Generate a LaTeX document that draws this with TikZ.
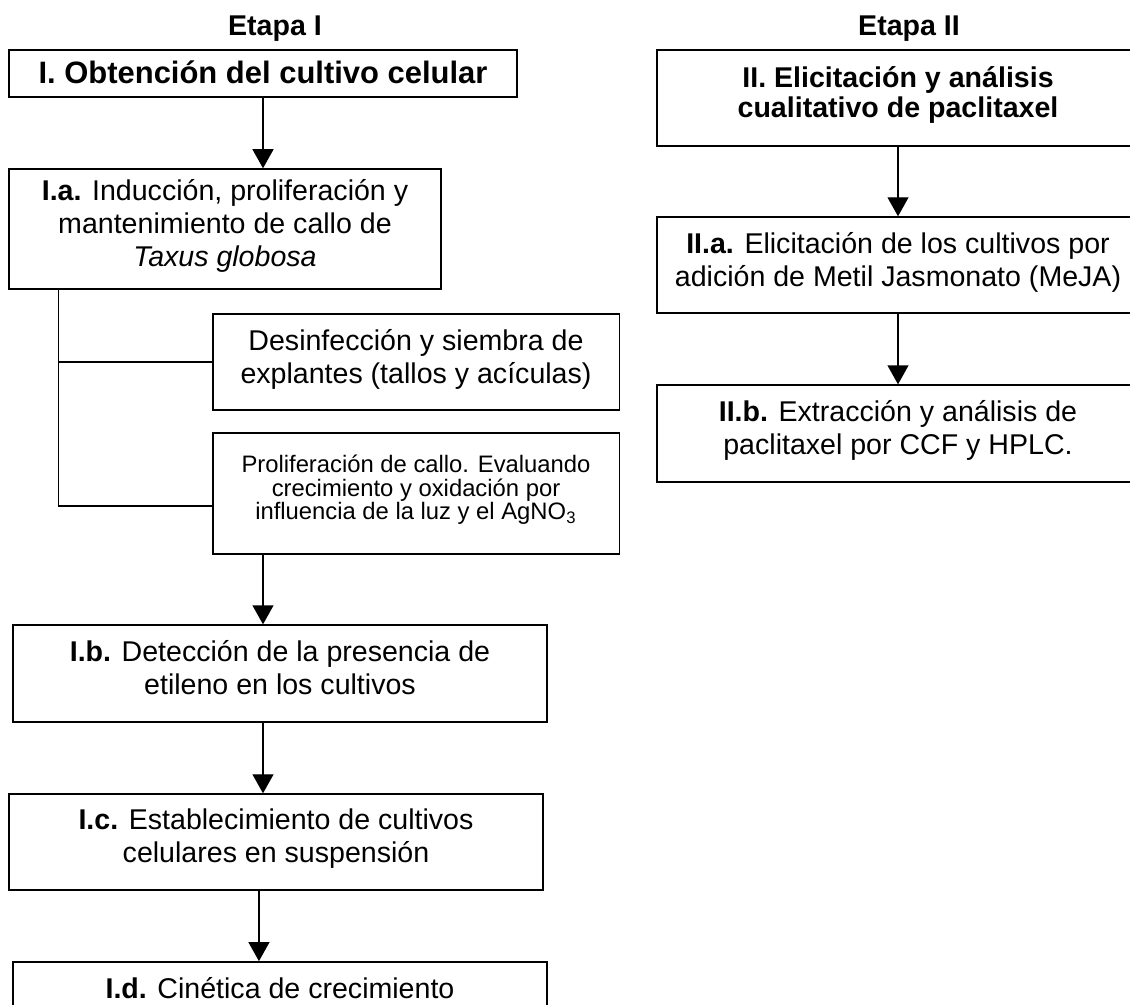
\documentclass[tikz,border=0pt]{standalone}
\usepackage{fontspec}
\setmainfont{Liberation Sans}
\usetikzlibrary{arrows.meta,positioning}
\tikzset{
  stepbox/.style={
    draw=black,
    line width=0.6pt,
    fill=white,
    align=center,
    inner sep=2pt,
    text depth=5pt,
    font=\fontsize{12}{13.9}\selectfont
  },
  notebox/.style={stepbox, font=\fontsize{10}{9.8}\selectfont},
  headbox/.style={stepbox, font=\bfseries\fontsize{12}{12.6}\selectfont},
  title/.style={inner sep=0pt, font=\bfseries\fontsize{12}{14}\selectfont},
  edge/.style={-{Triangle[width=8.8pt,length=8pt]}, line width=0.6pt},
  branch/.style={line width=0.6pt}
}

\begin{document}
\begin{tikzpicture}[x=0.42pt, y=-0.42pt]

  \useasboundingbox (0,0) rectangle (1130,1004);
  \clip (0,0) rectangle (1130,1004);

  % Etapa I
  \node[title] (etapa1) at (275,29) {Etapa I};
  \node[headbox, text depth=1pt, font=\bfseries\fontsize{13}{14}\selectfont,
        minimum width=213.5pt, minimum height=19.7pt] (I) at (263,73.5) {I. Obtención del cultivo celular};
  \node[stepbox, minimum width=181.6pt, minimum height=50.4pt] (Ia) at (225,229)
    {\textbf{I.a.} Inducción, proliferación y\\ mantenimiento de callo de\\ \textit{Taxus globosa}};
  \node[stepbox, minimum width=170.7pt, minimum height=40.3pt] (desinf) at (416,362)
    {Desinfección y siembra de\\ explantes (tallos y acículas)};
  \node[notebox, minimum width=170.7pt, minimum height=50.8pt] (prolif) at (416,493.5)
    {Proliferación de callo. Evaluando\\ crecimiento y oxidación por\\ influencia de la luz y el AgNO\textsubscript{3}};
  \node[stepbox, minimum width=224.3pt, minimum height=40.7pt] (Ib) at (280,673.5)
    {\textbf{I.b.} Detección de la presencia de\\ etileno en los cultivos};
  \node[stepbox, minimum width=224.4pt, minimum height=40.3pt] (Ic) at (276,842)
    {\textbf{I.c.} Establecimiento de cultivos\\ celulares en suspensión};
  \node[stepbox, minimum width=224.3pt, minimum height=27pt] (Id) at (280,994)
    {\textbf{I.d.} Cinética de crecimiento};

  \coordinate (trunk) at ([xshift=21.2pt]Ia.south west);
  \draw[branch] (trunk) |- (desinf.west);
  \draw[branch] (trunk) |- ([yshift=-5.25pt]prolif.west);

  \draw[edge] (I) -- (I |- Ia.north);
  \draw[edge] (prolif.south -| I.south) -- (I.south |- Ib.north);
  \draw[edge] (Ib.south -| I.south) -- (I.south |- Ic.north);
  \draw[edge] ([xshift=-1.7pt]Ic.south -| I.south) -- ([xshift=-1.7pt]I.south |- Id.north);

  % Etapa II
  \node[title] (etapa2) at (909,29) {Etapa II};
  \node[headbox, minimum width=202.4pt, minimum height=40.3pt] (II) at (898,98)
    {II. Elicitación y análisis\\ cualitativo de paclitaxel};
  \node[stepbox, minimum width=202.4pt, minimum height=40.3pt] (IIa) at (898,265)
    {\textbf{II.a.} Elicitación de los cultivos por\\ adición de Metil Jasmonato (MeJA)};
  \node[stepbox, minimum width=202.4pt, minimum height=40.7pt] (IIb) at (898,433.5)
    {\textbf{II.b.} Extracción y análisis de\\ paclitaxel por CCF y HPLC.};

  \draw[edge] (II) -- (IIa);
  \draw[edge] (IIa) -- (IIb);

\end{tikzpicture}
\end{document}
